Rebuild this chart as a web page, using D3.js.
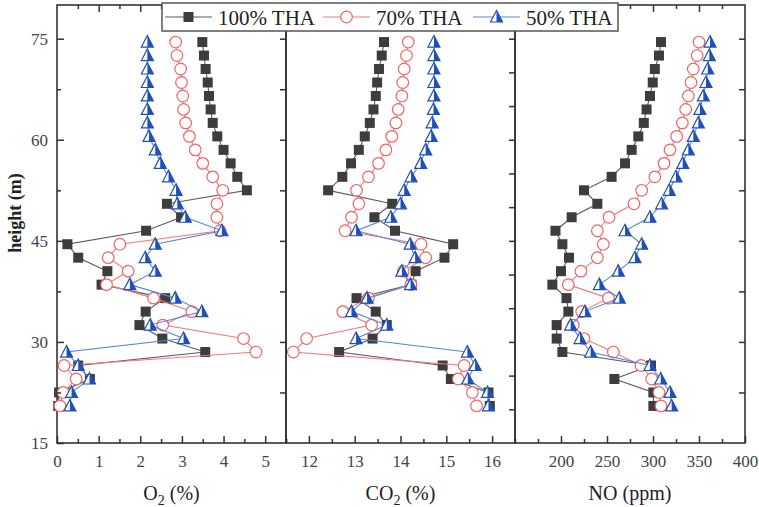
<!DOCTYPE html>
<html>
<head>
<meta charset="utf-8">
<script src="https://cdn.jsdelivr.net/npm/d3@7"></script>
<style>
  body { margin: 0; background: #fff; }
  text { font-family: "Liberation Serif", "Times New Roman", serif; }
</style>
</head>
<body>
<script>
// heights (m), bottom to top
const heights = [20.5, 22.5, 24.5, 26.5, 28.5, 30.5, 32.5, 34.5, 36.5, 38.5, 40.5, 42.5, 44.5, 46.5,
  48.5, 50.5, 52.5, 54.5, 56.5, 58.5, 60.5, 62.5, 64.5, 66.5, 68.5, 70.5, 72.5, 74.5];

const seriesNames = ['100% THA', '70% THA', '50% THA'];

const o2_100 = [0.03, 0.05, 0.79, 0.51, 3.56, 2.53, 1.98, 2.13, 2.6, 1.07, 1.21, 0.51, 0.25, 2.14,
  2.98, 2.64, 4.56, 4.33, 4.17, 4.0, 3.85, 3.74, 3.69, 3.65, 3.62, 3.57, 3.53, 3.49];
const o2_70 = [0.07, 0.15, 0.46, 0.17, 4.78, 4.48, 2.54, 3.24, 2.32, 1.19, 1.71, 1.23, 1.51, 3.92,
  3.84, 3.84, 3.98, 3.74, 3.5, 3.32, 3.18, 3.09, 3.04, 3.02, 2.99, 2.97, 2.88, 2.85];
const o2_50 = [0.31, 0.35, 0.78, 0.51, 0.23, 3.04, 2.24, 3.48, 2.84, 1.75, 2.36, 2.12, 2.36, 3.96,
  3.08, 2.89, 2.86, 2.68, 2.48, 2.36, 2.21, 2.17, 2.17, 2.17, 2.17, 2.17, 2.17, 2.17];

const co2_100 = [15.95, 15.92, 15.1, 14.92, 12.66, 13.39, 13.7, 13.46, 13.04, 14.24, 14.33, 14.96, 15.15, 13.88,
  13.43, 13.82, 12.42, 12.73, 12.92, 13.09, 13.22, 13.33, 13.41, 13.46, 13.49, 13.53, 13.59, 13.64];
const co2_70 = [15.66, 15.57, 15.26, 15.39, 11.66, 11.95, 13.37, 12.74, 13.3, 14.23, 14.06, 14.55, 14.45, 12.79,
  12.93, 13.09, 13.04, 13.3, 13.52, 13.68, 13.81, 13.9, 13.95, 14.03, 14.05, 14.08, 14.13, 14.17];
const co2_50 = [15.92, 15.9, 15.47, 15.63, 15.46, 13.03, 13.7, 12.93, 13.27, 14.22, 14.03, 14.32, 14.21, 13.03,
  13.79, 14.0, 14.08, 14.23, 14.44, 14.55, 14.67, 14.69, 14.72, 14.73, 14.73, 14.73, 14.73, 14.73];

const no_100 = [300.4, 300.4, 258, 297.8, 201.5, 195.3, 195.3, 208, 206, 190.6, 200, 208.7, 201.5, 194,
  211.6, 239.5, 225, 255, 269.6, 276.8, 284, 290, 293, 296.7, 299.7, 302, 306.5, 308.7];
const no_70 = [308.7, 306.5, 298.6, 287, 256.9, 225, 213.4, 222.5, 251.5, 208, 221.7, 239.5, 246, 239.5,
  252.2, 279.3, 287.7, 302, 312, 318.5, 325.7, 331.9, 335.5, 338.4, 341.3, 343.8, 348, 350];
const no_50 = [320.3, 318.5, 308.4, 296.7, 232.2, 220.7, 210.5, 226, 263.4, 241.7, 262.3, 280.4, 287.7, 269.6,
  296.7, 309.4, 317.7, 325, 332.3, 338.4, 343.8, 349.3, 351, 354.7, 357.6, 359.5, 361.2, 362];

const heightTicks = [15, 30, 45, 60, 75];
const o2Ticks = [0, 1, 2, 3, 4, 5];
const co2Ticks = [12, 13, 14, 15, 16];
const noTicks = [200, 250, 300, 350, 400];

const colors = {
  line: ['#5a5a5a', '#f07b7b', '#5a86d8'],
  mark: ['#3d3d3d', '#f26464', '#1f4fb8']
};

const serif = '"Liberation Serif", "Times New Roman", serif';
const W = 759, H = 507;
const plotTop = 5, plotBottom = 443;
const svg = d3.select('body').append('svg').attr('width', W).attr('height', H);

const y = d3.scaleLinear().domain([15, 80]).range([plotBottom, plotTop]);

const panels = [
  { series: [o2_100, o2_70, o2_50], domain: [0, 5.5], range: [57, 286], ticks: o2Ticks, minorStep: 0.5,
    sub: 'O', subEnd: ' (%)', rightStep: 7.5 },
  { series: [co2_100, co2_70, co2_50], domain: [11.5, 16.5], range: [286, 515], ticks: co2Ticks, minorStep: 0.5,
    sub: 'CO', subEnd: ' (%)', rightStep: 5 },
  { series: [no_100, no_70, no_50], domain: [150, 400], range: [515, 745], ticks: noTicks, minorStep: 25,
    label: 'NO (ppm)', rightStep: 7.5 }
];

const drawMarker = (g, i, cx, cy) => {
  if (i === 0) {
    g.append('rect').attr('x', cx - 5).attr('y', cy - 5).attr('width', 10).attr('height', 10)
      .style('fill', colors.mark[0]);
  } else if (i === 1) {
    g.append('circle').attr('cx', cx).attr('cy', cy).attr('r', 5.8)
      .style('fill', '#fff').style('stroke', colors.mark[1]).style('stroke-width', 1.2);
  } else {
    g.append('path')
      .attr('d', `M${cx},${cy - 6.5}L${cx + 6},${cy + 5}L${cx - 6},${cy + 5}Z`)
      .style('fill', '#fff').style('stroke', colors.mark[2]).style('stroke-width', 1.2);
    g.append('path')
      .attr('d', `M${cx},${cy - 6.5}L${cx + 6},${cy + 5}L${cx},${cy + 5}Z`)
      .style('fill', colors.mark[2]);
  }
};

const styleTicks = (sel) => {
  sel.attr('font-family', serif).attr('font-size', 17);
  sel.select('.domain').remove();
  sel.selectAll('line').style('stroke', '#333').style('stroke-width', 1.5);
  sel.selectAll('text').style('font-family', serif).style('font-size', '17px').style('fill', '#444');
};

panels.forEach((p) => {
  const x = d3.scaleLinear().domain(p.domain).range(p.range);
  const g = svg.append('g');

  const minors = d3.range(p.domain[0], p.domain[1] + 1e-9, p.minorStep)
    .filter(v => Math.abs(v / (p.minorStep * 2) - Math.round(v / (p.minorStep * 2))) > 1e-6);
  const majors = d3.range(p.domain[0], p.domain[1] + 1e-9, p.minorStep * 2).filter(v => v > p.domain[0] && v < p.domain[1]);

  // bottom axis
  g.append('g').attr('transform', `translate(0,${plotBottom})`)
    .call(d3.axisBottom(x).tickValues(p.ticks).tickFormat(d3.format('d'))
      .tickSizeInner(-7).tickSizeOuter(0).tickPadding(12))
    .call(styleTicks);
  g.append('g').attr('transform', `translate(0,${plotBottom})`)
    .call(d3.axisBottom(x).tickValues(minors).tickSizeInner(-4).tickSizeOuter(0).tickFormat(''))
    .call(styleTicks);

  // top mirror ticks
  g.append('g').attr('transform', `translate(0,${plotTop})`)
    .call(d3.axisTop(x).tickValues(majors).tickSizeInner(-7).tickSizeOuter(0).tickFormat(''))
    .call(styleTicks);
  g.append('g').attr('transform', `translate(0,${plotTop})`)
    .call(d3.axisTop(x).tickValues(minors).tickSizeInner(-4).tickSizeOuter(0).tickFormat(''))
    .call(styleTicks);

  // right edge ticks
  const rVals = d3.range(15 + p.rightStep, 80, p.rightStep);
  g.append('g').attr('transform', `translate(${p.range[1]},0)`)
    .call(d3.axisRight(y).tickValues(rVals).tickSizeInner(-6).tickSizeOuter(0).tickFormat(''))
    .call(styleTicks);

  // frame
  g.append('rect').attr('x', p.range[0]).attr('y', plotTop)
    .attr('width', p.range[1] - p.range[0]).attr('height', plotBottom - plotTop)
    .style('fill', 'none').style('stroke', '#333').style('stroke-width', 1.6);

  // axis title
  const cx = (p.range[0] + p.range[1]) / 2;
  const t = g.append('text').attr('x', cx).attr('y', 500).attr('text-anchor', 'middle')
    .style('font-family', serif).style('font-size', '20px').style('fill', '#222');
  if (p.label) {
    t.text(p.label);
  } else {
    t.append('tspan').text(p.sub);
    t.append('tspan').attr('dy', 5).style('font-size', '14px').text('2');
    t.append('tspan').attr('dy', -5).text(p.subEnd);
  }

  // series
  const line = d3.line().x(d => x(d[0])).y(d => y(d[1]));
  p.series.forEach((vals, si) => {
    const sg = g.append('g');
    const pts = vals.map((v, k) => [v, heights[k]]);
    sg.append('path').attr('d', line(pts))
      .style('fill', 'none').style('stroke', colors.line[si]).style('stroke-width', 1.1);
    pts.forEach(d => drawMarker(sg, si, x(d[0]), y(d[1])));
  });
});

// left axis (height)
svg.append('g').attr('transform', 'translate(57,0)')
  .call(d3.axisLeft(y).tickValues(heightTicks).tickSizeInner(-7).tickSizeOuter(0).tickPadding(9))
  .call(styleTicks);
svg.append('g').attr('transform', 'translate(57,0)')
  .call(d3.axisLeft(y).tickValues([22.5, 37.5, 52.5, 67.5]).tickSizeInner(-4).tickSizeOuter(0).tickFormat(''))
  .call(styleTicks);

svg.append('text').attr('transform', 'translate(21,213) rotate(-90)')
  .attr('text-anchor', 'middle').style('font-family', serif).style('font-size', '18px').style('font-weight', 'bold')
  .style('fill', '#222').text('height (m)');

// legend
const leg = svg.append('g');
leg.append('rect').attr('x', 162).attr('y', 3).attr('width', 456).attr('height', 28)
  .style('fill', '#fff').style('stroke', '#555').style('stroke-width', 1.5);
const legX = [165, 323, 473];
seriesNames.forEach((name, i) => {
  const lx = legX[i];
  leg.append('line').attr('x1', lx).attr('x2', lx + 47).attr('y1', 17).attr('y2', 17)
    .style('stroke', colors.line[i]).style('stroke-width', 1.2);
  drawMarker(leg, i, lx + 23.5, 17);
  leg.append('text').attr('x', lx + 53).attr('y', 25).style('font-family', serif)
    .style('font-size', '21px').style('fill', '#222').text(name);
});
</script>
</body>
</html>
